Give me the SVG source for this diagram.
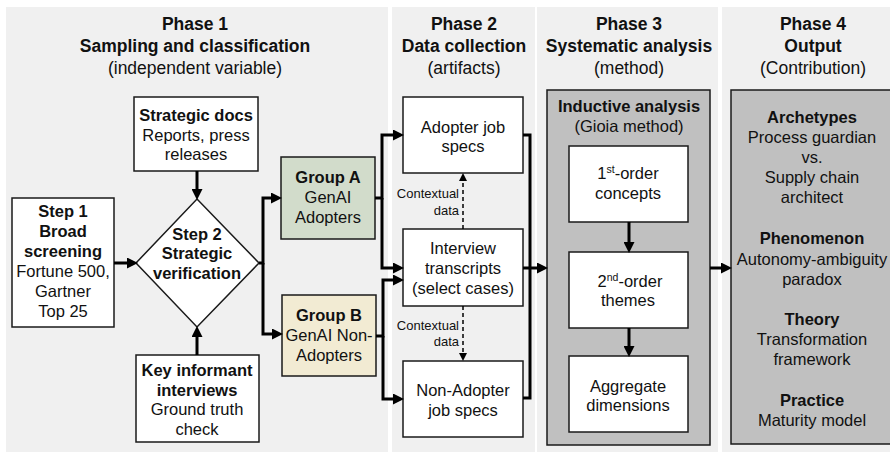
<svg xmlns="http://www.w3.org/2000/svg" width="890" height="452" viewBox="0 0 890 452">
<defs>
<style>
text{font-family:"Liberation Sans",Arial,sans-serif;fill:#111;text-anchor:middle}
.h{font-size:17.5px}
.b{font-size:16.5px}
.bold{font-weight:bold}
.s{font-size:13px;text-anchor:end}
.panel{fill:#f0f0f0}
.box{fill:#fff;stroke:#1a1a1a;stroke-width:1.5}
.gbox{fill:#c0c0c0;stroke:#1a1a1a;stroke-width:1.5}
.con{fill:none;stroke:#000;stroke-width:3;stroke-linejoin:miter}
.arr{marker-end:url(#ah)}
.dash{fill:none;stroke:#000;stroke-width:1.5;stroke-dasharray:4 3;marker-end:url(#ahs)}
</style>
<marker id="ah" markerUnits="userSpaceOnUse" markerWidth="11" markerHeight="11" refX="0" refY="5" orient="auto" viewBox="0 0 10 10">
<path d="M0,0 L10,5 L0,10 z" fill="#000"/>
</marker>
<marker id="ahs" markerUnits="userSpaceOnUse" markerWidth="8" markerHeight="8" refX="0" refY="4" orient="auto" viewBox="0 0 8 8">
<path d="M0,0 L8,4 L0,8 z" fill="#000"/>
</marker>
</defs>
<rect width="890" height="452" fill="#fff"/>
<g id="panels">
<rect class="panel" x="6" y="7" width="382" height="445"/>
<rect class="panel" x="392" y="7" width="143" height="445"/>
<rect class="panel" x="537" y="7" width="181" height="445"/>
<rect class="panel" x="722" y="7" width="168" height="445"/>
</g>
<g id="headings">
<text class="h bold" x="195" y="30">Phase 1</text>
<text class="h bold" x="195" y="52">Sampling and classification</text>
<text class="h" x="195" y="74">(independent variable)</text>
<text class="h bold" x="464" y="30">Phase 2</text>
<text class="h bold" x="464" y="52">Data collection</text>
<text class="h" x="464" y="74">(artifacts)</text>
<text class="h bold" x="629" y="30">Phase 3</text>
<text class="h bold" x="629" y="52">Systematic analysis</text>
<text class="h" x="629" y="74">(method)</text>
<text class="h bold" x="813" y="30">Phase 4</text>
<text class="h bold" x="813" y="52">Output</text>
<text class="h" x="813" y="74">(Contribution)</text>
</g>
<g id="step1">
<rect class="box" x="12" y="198" width="102" height="129"/>
<text class="b bold" x="63" y="217">Step 1</text>
<text class="b bold" x="63" y="237">Broad</text>
<text class="b bold" x="63" y="257">screening</text>
<text class="b" x="63" y="277">Fortune 500,</text>
<text class="b" x="63" y="297">Gartner</text>
<text class="b" x="63" y="317">Top 25</text>
</g>
<g id="strategic-docs">
<rect class="box" x="134" y="97" width="124" height="74"/>
<text class="b bold" x="196" y="121">Strategic docs</text>
<text class="b" x="196" y="141">Reports, press</text>
<text class="b" x="196" y="160">releases</text>
</g>
<g id="step2">
<polygon class="box" points="197,199 259,263 197,327 136,263"/>
<text class="b bold" x="197" y="240">Step 2</text>
<text class="b bold" x="197" y="259">Strategic</text>
<text class="b bold" x="197" y="279">verification</text>
</g>
<g id="key-informant">
<rect class="box" x="136" y="355" width="123" height="87"/>
<text class="b bold" x="197" y="376">Key informant</text>
<text class="b bold" x="197" y="396">interviews</text>
<text class="b" x="197" y="415">Ground truth</text>
<text class="b" x="197" y="435">check</text>
</g>
<g id="group-a">
<rect x="281" y="157" width="94" height="82" fill="#d2dccb" stroke="#1a1a1a" stroke-width="1.5"/>
<text class="b bold" x="328" y="183">Group A</text>
<text class="b" x="328" y="203">GenAI</text>
<text class="b" x="328" y="223">Adopters</text>
</g>
<g id="group-b">
<rect x="282" y="295" width="94" height="81" fill="#f2ebd3" stroke="#1a1a1a" stroke-width="1.5"/>
<text class="b bold" x="329" y="321">Group B</text>
<text class="b" x="329" y="341">GenAI Non-</text>
<text class="b" x="329" y="361">Adopters</text>
</g>
<g id="adopter-specs">
<rect class="box" x="403" y="97" width="120" height="76"/>
<text class="b" x="463" y="133">Adopter job</text>
<text class="b" x="463" y="152">specs</text>
</g>
<g id="interviews">
<rect class="box" x="403" y="229" width="120" height="77"/>
<text class="b" x="463" y="254">Interview</text>
<text class="b" x="463" y="274">transcripts</text>
<text class="b" x="463" y="294">(select cases)</text>
</g>
<g id="non-adopter-specs">
<rect class="box" x="403" y="361" width="120" height="76"/>
<text class="b" x="463" y="396">Non-Adopter</text>
<text class="b" x="463" y="416">job specs</text>
</g>
<g id="inductive-analysis">
<rect class="gbox" x="547" y="90" width="163" height="355"/>
<text class="b bold" x="629" y="112">Inductive analysis</text>
<text class="b" x="629" y="132">(Gioia method)</text>
</g>
<g id="first-order">
<rect class="box" x="569" y="146" width="119" height="76"/>
<text class="b" x="628" y="179">1<tspan font-size="10.5" baseline-shift="super">st</tspan>-order</text>
<text class="b" x="628" y="199">concepts</text>
</g>
<g id="second-order">
<rect class="box" x="569" y="252" width="119" height="76"/>
<text class="b" x="630" y="287">2<tspan font-size="10.5" baseline-shift="super">nd</tspan>-order</text>
<text class="b" x="628" y="306">themes</text>
</g>
<g id="aggregate">
<rect class="box" x="569" y="356" width="119" height="76"/>
<text class="b" x="628" y="392">Aggregate</text>
<text class="b" x="628" y="411">dimensions</text>
</g>
<g id="output">
<rect class="gbox" x="731" y="90" width="170" height="354"/>
<text class="b bold" x="812" y="123">Archetypes</text>
<text class="b" x="812" y="143">Process guardian</text>
<text class="b" x="812" y="163">vs.</text>
<text class="b" x="812" y="183">Supply chain</text>
<text class="b" x="812" y="203">architect</text>
<text class="b bold" x="812" y="244">Phenomenon</text>
<text class="b" x="812" y="265">Autonomy-ambiguity</text>
<text class="b" x="812" y="285">paradox</text>
<text class="b bold" x="812" y="325">Theory</text>
<text class="b" x="812" y="345">Transformation</text>
<text class="b" x="812" y="365">framework</text>
<text class="b bold" x="812" y="406">Practice</text>
<text class="b" x="812" y="426">Maturity model</text>
</g>
<g id="connectors">
<path class="con arr" d="M197,171 V189"/>
<path class="con arr" d="M197,355 V337"/>
<path class="con arr" d="M114,263 H127"/>
<path class="con arr" d="M259,263 H263 V198 H271"/>
<path class="con arr" d="M263,263 V334 H272"/>
<path class="con arr" d="M375,198 H382 V135 H393"/>
<path class="con arr" d="M382,198 V268 H393"/>
<path class="con arr" d="M376,336 H383 V280 H393"/>
<path class="con arr" d="M383,336 V399 H393"/>
<path class="con" d="M523,135 H530 V398 H523"/>
<path class="con arr" d="M523,268 H537"/>
<path class="con arr" d="M710,268 H721"/>
<path class="con arr" d="M629,222 V242"/>
<path class="con arr" d="M629,328 V346"/>
<path class="dash" d="M463,229 V181"/>
<path class="dash" d="M463,306 V353"/>
<text class="s" x="459" y="198">Contextual</text>
<text class="s" x="459" y="215">data</text>
<text class="s" x="459" y="330">Contextual</text>
<text class="s" x="459" y="346">data</text>
</g>
</svg>
